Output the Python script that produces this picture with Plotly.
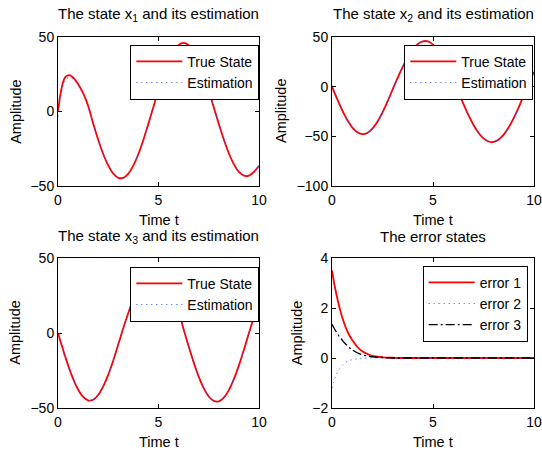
import plotly.graph_objects as go

# ---------------- data ----------------
t = [0.0, 0.1, 0.2, 0.3, 0.4, 0.5, 0.6, 0.7, 0.8, 0.9, 1.0,
     1.25, 1.5, 1.75, 2.0, 2.25, 2.5, 2.75, 3.0, 3.25, 3.5, 3.75,
     4.0, 4.25, 4.5, 4.75, 5.0, 5.25, 5.5, 5.75, 6.0, 6.25, 6.5, 6.75,
     7.0, 7.25, 7.5, 7.75, 8.0, 8.25, 8.5, 8.75, 9.0, 9.25, 9.5, 9.75, 10.0]

x1 = [0.0, 9.8, 17.0, 21.5, 23.6, 24.3, 24.2, 23.3, 22.0, 20.4, 18.5,
      12.3, 3.8, -8.1, -18.9, -28.5, -36.2, -41.7, -44.5, -44.5, -41.7, -36.2,
      -28.5, -18.9, -8.1, 3.2, 14.5, 24.9, 33.7, 40.4, 44.6, 46.0, 44.5, 40.2,
      33.4, 24.5, 14.1, 2.8, -8.3, -18.8, -28.0, -35.4, -40.6, -43.1, -43.0, -40.5, -36.5]

x2 = [0.0, -4.9, -9.7, -14.5, -19.1, -23.5, -27.6, -31.5, -35.0, -38.1, -40.9,
      -45.8, -47.8, -46.6, -42.3, -35.3, -26.0, -14.9, -2.9, 8.8, 19.9, 29.7,
      37.6, 43.0, 45.7, 45.5, 42.3, 36.5, 28.3, 18.2, 7.0, -5.0, -17.1, -28.5,
      -38.4, -46.4, -52.1, -55.2, -55.6, -53.2, -48.2, -40.8, -31.4, -20.5, -8.4, 3.6, 14.8]

x3 = [0.0, -4.5, -8.9, -13.2, -17.4, -21.4, -25.3, -28.8, -32.1, -35.1, -37.7,
      -42.6, -44.9, -44.5, -41.3, -35.6, -27.8, -18.3, -7.5, 3.3, 13.5, 23.0,
      31.0, 37.5, 41.5, 43.0, 42.8, 40.5, 34.5, 25.5, 15.0, 2.5, -8.9, -19.6,
      -29.1, -36.8, -42.3, -45.3, -45.6, -43.1, -38.1, -30.8, -21.6, -11.1, 0.0, 10.8, 21.3]

e1 = [3.5, 3.02, 2.62, 2.25, 1.93, 1.64, 1.40, 1.18, 1.00, 0.85, 0.72,
      0.45, 0.27, 0.16, 0.09, 0.05, 0.03, 0.015, 0.01, 0.0, 0.0, 0.0,
      0.0, 0.0, 0.0, 0.0, 0.0, 0.0, 0.0, 0.0, 0.0, 0.0, 0.0, 0.0,
      0.0, 0.0, 0.0, 0.0, 0.0, 0.0, 0.0, 0.0, 0.0, 0.0, 0.0, 0.0, 0.0]

e2 = [-1.2, -0.92, -0.70, -0.53, -0.40, -0.30, -0.22, -0.16, -0.12, -0.09, -0.07,
      -0.035, -0.02, -0.01, 0.0, 0.0, 0.0, 0.0, 0.0, 0.0, 0.0, 0.0,
      0.0, 0.0, 0.0, 0.0, 0.0, 0.0, 0.0, 0.0, 0.0, 0.0, 0.0, 0.0,
      0.0, 0.0, 0.0, 0.0, 0.0, 0.0, 0.0, 0.0, 0.0, 0.0, 0.0, 0.0, 0.0]

e3 = [1.35, 1.2, 1.06, 0.93, 0.82, 0.72, 0.62, 0.54, 0.46, 0.39, 0.33,
      0.21, 0.13, 0.08, 0.05, 0.03, 0.02, 0.01, 0.0, 0.0, 0.0, 0.0,
      0.0, 0.0, 0.0, 0.0, 0.0, 0.0, 0.0, 0.0, 0.0, 0.0, 0.0, 0.0,
      0.0, 0.0, 0.0, 0.0, 0.0, 0.0, 0.0, 0.0, 0.0, 0.0, 0.0, 0.0, 0.0]

# estimations = true state minus estimation error
x1_hat = [a - b for a, b in zip(x1, e1)]
x2_hat = [a - b for a, b in zip(x2, e2)]
x3_hat = [a - b for a, b in zip(x3, e3)]

titles = ["The state x<sub>1</sub> and its estimation",
          "The state x<sub>2</sub> and its estimation",
          "The state x<sub>3</sub> and its estimation",
          "The error states"]
x_ticks = [0, 5, 10]
y_ticks = [[-50, 0, 50], [-100, -50, 0, 50], [-50, 0, 50], [-2, 0, 2, 4]]
y_ranges = [[-50, 50], [-100, 50], [-50, 50], [-2, 4]]

# ---------------- figure ----------------
W, H = 542, 450
FONT = "Liberation Sans, Arial, Helvetica, sans-serif"

# pixel boxes of the four plot areas: (left, right, top, bottom)
boxes = [(58, 259, 37, 186), (332, 534, 37, 186),
         (58, 259, 258, 408), (332, 534, 258, 408)]

fig = go.Figure()

def add_state(idx, true_vals, est_vals):
    ax = "" if idx == 1 else str(idx)
    lg = "legend" if idx == 1 else "legend" + str(idx)
    fig.add_trace(go.Scatter(x=t, y=true_vals, mode="lines", name="True State",
                             line=dict(color="red", width=1.8, shape="spline"),
                             xaxis="x" + ax, yaxis="y" + ax, legend=lg))
    fig.add_trace(go.Scatter(x=t, y=est_vals, mode="lines", name="Estimation",
                             line=dict(color="#3050ff", width=1, dash="1px,4px", shape="spline"),
                             xaxis="x" + ax, yaxis="y" + ax, legend=lg))

add_state(1, x1, x1_hat)
add_state(2, x2, x2_hat)
add_state(3, x3, x3_hat)

fig.add_trace(go.Scatter(x=t, y=e1, mode="lines", name="error 1",
                         line=dict(color="red", width=1.8, shape="spline"),
                         xaxis="x4", yaxis="y4", legend="legend4"))
fig.add_trace(go.Scatter(x=t, y=e2, mode="lines", name="error 2",
                         line=dict(color="#3050ff", width=1, dash="1px,4px", shape="spline"),
                         xaxis="x4", yaxis="y4", legend="legend4"))
fig.add_trace(go.Scatter(x=t, y=e3, mode="lines", name="error 3",
                         line=dict(color="black", width=1.3, dash="9px,3px,2px,3px", shape="spline"),
                         xaxis="x4", yaxis="y4", legend="legend4"))

layout = dict(width=W, height=H, margin=dict(l=0, r=0, t=0, b=0, autoexpand=False),
              paper_bgcolor="white", plot_bgcolor="white",
              font=dict(family=FONT, size=14, color="black"),
              showlegend=True)

annotations = []
for i, (l, r, tp, bt) in enumerate(boxes):
    n = i + 1
    ax = "" if n == 1 else str(n)
    common = dict(showline=True, linecolor="black", linewidth=1, mirror="ticks",
                  ticks="inside", ticklen=4, tickcolor="black", showgrid=False,
                  zeroline=False, automargin=False,
                  tickfont=dict(family=FONT, size=14, color="black"))
    layout["xaxis" + ax] = dict(domain=[l / W, r / W], range=[0, 10],
                                tickvals=x_ticks, anchor="y" + ax,
                                ticklabelstandoff=1, **common)
    layout["yaxis" + ax] = dict(domain=[1 - bt / H, 1 - tp / H], range=y_ranges[i],
                                tickvals=y_ticks[i], anchor="x" + ax, **common)
    cx = (l + r) / 2 / W
    # title
    annotations.append(dict(text=titles[i], x=cx, y=1 - (tp - 22) / H, xref="paper",
                            yref="paper", showarrow=False, xanchor="center",
                            yanchor="middle", font=dict(size=15)))
    # x label
    annotations.append(dict(text="Time t", x=cx, y=1 - (bt + 24) / H, xref="paper",
                            yref="paper", showarrow=False, xanchor="center",
                            yanchor="top", font=dict(size=14.5)))
ylab_x = [15.3, 280.5, 14.7, 297.2]
for i, (l, r, tp, bt) in enumerate(boxes):
    annotations.append(dict(text="Amplitude", x=ylab_x[i] / W, y=1 - (tp + bt) / 2 / H,
                            xref="paper", yref="paper", showarrow=False, textangle=-90,
                            xanchor="center", yanchor="middle", font=dict(size=14.5)))
layout["annotations"] = annotations

leg_common = dict(xanchor="right", yanchor="top", bgcolor="white", bordercolor="black",
                  borderwidth=1, font=dict(family=FONT, size=14, color="black"),
                  itemwidth=46, tracegroupgap=0)
layout["legend"] = dict(x=259.3 / W, y=1 - 44.7 / H, **leg_common)
layout["legend2"] = dict(x=533.3 / W, y=1 - 44.7 / H, **leg_common)
layout["legend3"] = dict(x=259.3 / W, y=1 - 266.7 / H, **leg_common)
layout["legend4"] = dict(x=527.7 / W, y=1 - 265.7 / H, **leg_common)

fig.update_layout(**layout)
fig.write_html("out.html", config={"displayModeBar": False},
               post_script="document.body.style.margin='0';")

# remove the browser's default page margin so the figure sits at the top-left corner
with open("out.html", "r", encoding="utf-8") as fh:
    page = fh.read()
page = page.replace("<head>", "<head><style>html,body{margin:0;padding:0;overflow:hidden;}</style>", 1)
with open("out.html", "w", encoding="utf-8") as fh:
    fh.write(page)
